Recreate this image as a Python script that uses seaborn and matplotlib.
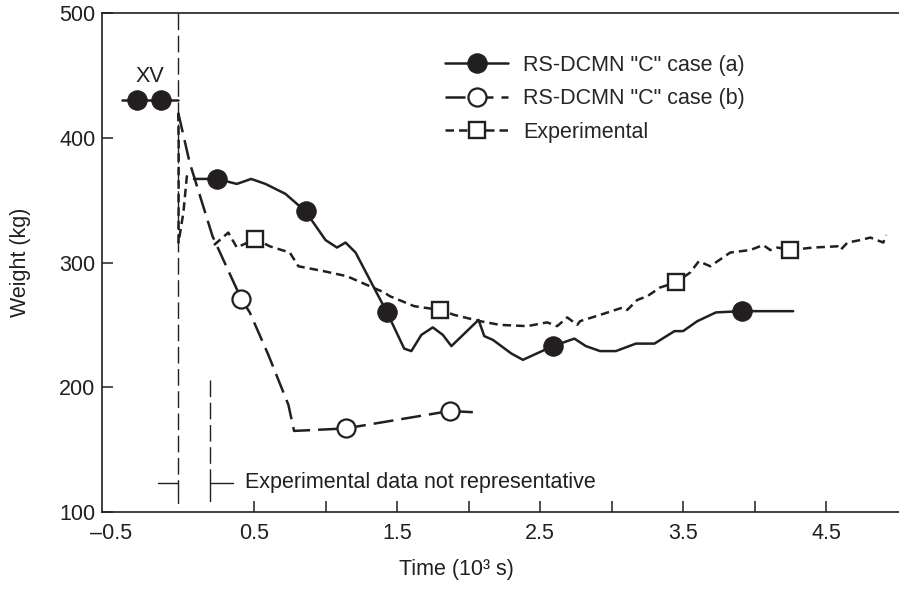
import matplotlib.pyplot as plt
import numpy as np
import seaborn as sns

# XV segment (before the cut)
xv_time = [-0.42, -0.32, -0.15, -0.03]
xv_weight = [430, 430, 430, 430]

# RS-DCMN "C" case (a)
case_a_time = [0.08, 0.24, 0.38, 0.48, 0.58, 0.72, 0.79, 0.86, 1.00, 1.08,
               1.14, 1.21, 1.37, 1.43, 1.55, 1.60, 1.67, 1.75, 1.82, 1.88,
               2.07, 2.11, 2.17, 2.30, 2.38, 2.59, 2.74, 2.82, 2.92, 3.03,
               3.17, 3.30, 3.44, 3.50, 3.60, 3.73, 3.91, 4.27]
case_a_weight = [367, 367, 363, 367, 363, 355, 348, 341, 318, 312,
                 316, 308, 273, 260, 231, 229, 242, 248, 242, 233,
                 254, 241, 238, 227, 222, 233, 239, 233, 229, 229,
                 235, 235, 245, 245, 253, 260, 261, 261]
case_a_marks = [1, 7, 13, 25, 36]

# RS-DCMN "C" case (b)
case_b_time = [-0.03, 0.05, 0.21, 0.35, 0.41, 0.47, 0.60, 0.74, 0.78,
               1.14, 1.87, 2.03]
case_b_weight = [420, 380, 321, 286, 271, 260, 226, 186, 165,
                 167, 181, 180]
case_b_marks = [4, 9, 10]

# Experimental: spike at the cut, then the measured trace
exp_early_time = [-0.03, -0.027, -0.028, 0.006, 0.03, 0.04]
exp_early_weight = [420, 395, 316, 340, 369, 372]
exp_time = [0.22, 0.32, 0.38, 0.51, 0.61, 0.75, 0.81, 0.99, 1.15, 1.29,
            1.41, 1.45, 1.62, 1.80, 1.90, 2.08, 2.22, 2.41, 2.55, 2.62,
            2.69, 2.76, 2.78, 2.92, 3.08, 3.11, 3.18, 3.25, 3.34, 3.45,
            3.55, 3.61, 3.69, 3.83, 3.97, 4.06, 4.11, 4.16, 4.25, 4.41,
            4.58, 4.60, 4.65, 4.74, 4.81, 4.90, 4.92]
exp_weight = [314, 324, 312, 319, 313, 308, 297, 293, 289, 282,
              276, 273, 265, 262, 258, 253, 250, 249, 252, 249,
              256, 250, 253, 258, 264, 262, 270, 273, 280, 284,
              292, 301, 297, 308, 310, 314, 310, 312, 310, 312,
              313, 310, 316, 318, 320, 316, 322]
exp_marks = [3, 13, 29, 38]

# window where the experimental data is not representative
cut_start, cut_end = -0.03, 0.19

x_ticks = [-0.5, 0.5, 1.5, 2.5, 3.5, 4.5]
x_tick_labels = ["\u20130.5", "0.5", "1.5", "2.5", "3.5", "4.5"]
y_ticks = [100, 200, 300, 400, 500]

sns.set_theme(style="ticks")
plt.rcParams["font.family"] = ["Liberation Sans", "DejaVu Sans"]

ink = "#231f20"
fs = 15.5
lw = 1.8

fig = plt.figure(figsize=(8.99, 5.89), dpi=100)
ax = fig.add_axes([0.1138, 0.1307, 0.8862, 0.8472])

# case (a) with the XV part
sns.lineplot(x=xv_time, y=xv_weight, ax=ax, sort=False, estimator=None,
             legend=False, color=ink, linewidth=lw, marker="o",
             markersize=14, markevery=[1, 2], markerfacecolor=ink,
             markeredgecolor=ink)
sns.lineplot(x=case_a_time, y=case_a_weight, ax=ax, sort=False,
             estimator=None, legend=False, color=ink, linewidth=lw,
             marker="o", markersize=14, markevery=case_a_marks,
             markerfacecolor=ink, markeredgecolor=ink)
line_a = ax.lines[-1]

sns.lineplot(x=case_b_time, y=case_b_weight, ax=ax, sort=False,
             estimator=None, legend=False, color=ink, linewidth=lw,
             linestyle=(0, (8, 3.2)), marker="o", markersize=13,
             markevery=case_b_marks, markerfacecolor="white",
             markeredgecolor=ink, markeredgewidth=1.6)
line_b = ax.lines[-1]

sns.lineplot(x=exp_early_time, y=exp_early_weight, ax=ax, sort=False,
             estimator=None, legend=False, color=ink, linewidth=lw,
             linestyle=(0, (3.4, 2)))
sns.lineplot(x=exp_time, y=exp_weight, ax=ax, sort=False,
             estimator=None, legend=False, color=ink, linewidth=lw,
             linestyle=(0, (3.4, 2)), marker="s", markersize=11,
             markevery=exp_marks, markerfacecolor="white",
             markeredgecolor=ink, markeredgewidth=1.7)
line_exp = ax.lines[-1]

# cut markers and bracket
ax.plot([cut_start, cut_start], [500, 123.5], color=ink, lw=1.0,
        linestyle=(0, (12, 4)))
ax.plot([cut_start, cut_start], [123.5, 107.5], color=ink, lw=1.0)
ax.plot([-0.17, cut_start], [123.5, 123.5], color=ink, lw=1.0)
ax.plot([cut_end, cut_end], [206, 123.5], color=ink, lw=1.0,
        linestyle=(0, (12, 4)))
ax.plot([cut_end, cut_end], [123.5, 109], color=ink, lw=1.0)
ax.plot([cut_end, 0.35], [123.5, 123.5], color=ink, lw=1.0)
ax.text(0.44, 123.5, "Experimental data not representative", fontsize=fs,
        color=ink, ha="left", va="center")
ax.text(-0.23, 449, "XV", fontsize=fs, color=ink, ha="center", va="center")

ax.set_xlim(-0.561, 5.01)
ax.set_ylim(100, 500)
ax.xaxis.remove_overlapping_locs = False
ax.set_xticks(x_ticks)
ax.set_xticklabels(x_tick_labels)
ax.set_xticks(np.arange(0.5, 5.0, 0.5), minor=True)
ax.tick_params(axis="x", which="major", length=0, pad=8, labelsize=fs,
               colors=ink)
ax.tick_params(axis="x", which="minor", direction="in", length=8,
               width=1.1, color=ink)
ax.set_yticks(y_ticks)
ax.tick_params(axis="y", direction="in", length=8, width=1.1, pad=5,
               labelsize=fs, colors=ink)

for side in ["left", "bottom", "top"]:
    ax.spines[side].set_color(ink)
    ax.spines[side].set_linewidth(1.2)
ax.spines["right"].set_visible(False)

ax.set_xlabel("Time (10\u00b3 s)", fontsize=fs, color=ink)
ax.xaxis.set_label_coords(0.445, -0.094)
ax.set_ylabel("Weight (kg)", fontsize=fs, color=ink)
ax.yaxis.set_label_coords(-0.09, 0.5)

ax.legend([line_a, line_b, line_exp],
          ['RS-DCMN "C" case (a)', 'RS-DCMN "C" case (b)', "Experimental"],
          loc="upper left", bbox_to_anchor=(445 / 899, 1 - 55 / 589),
          bbox_transform=fig.transFigure, frameon=False, fontsize=fs,
          handlelength=2.93, handletextpad=0.7, labelspacing=0.57,
          borderpad=0, borderaxespad=0)

fig.savefig("out.png", dpi=100)
